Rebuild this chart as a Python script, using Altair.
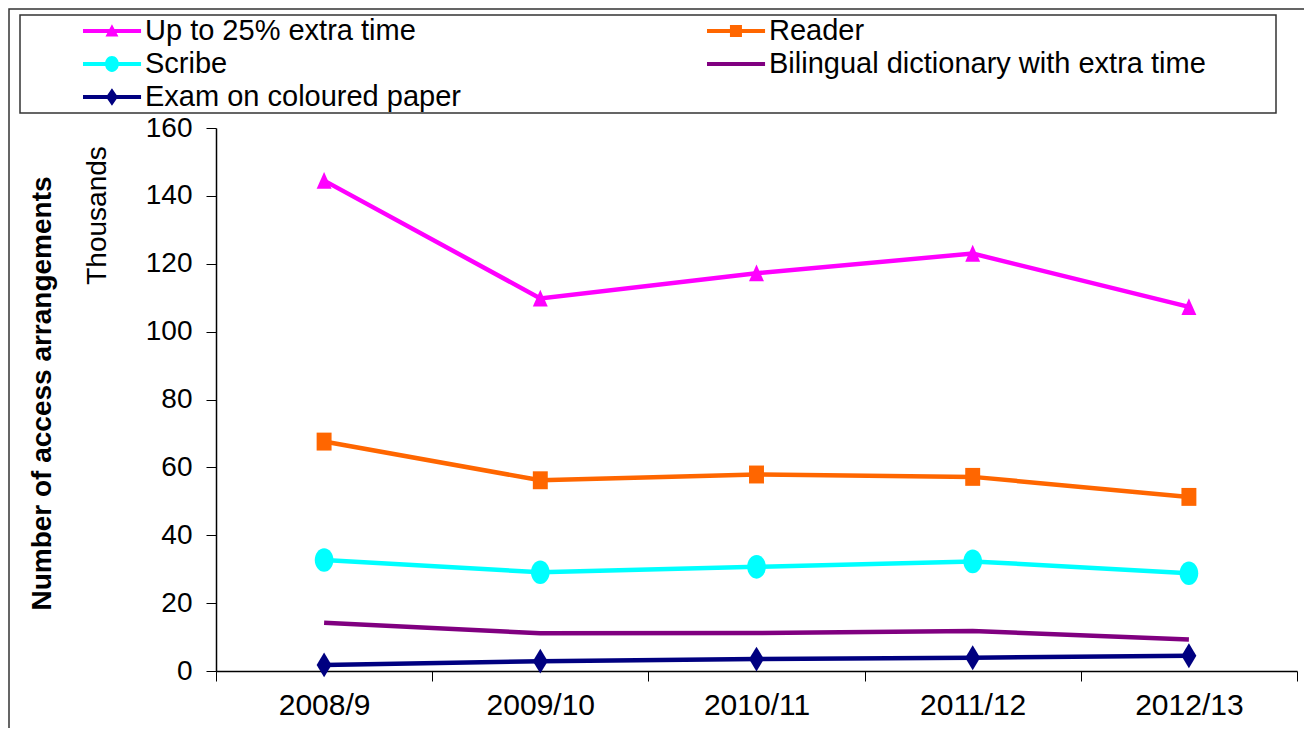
import altair as alt
import pandas as pd

years = ["2008/9", "2009/10", "2010/11", "2011/12", "2012/13"]
series = [
    "Up to 25% extra time",
    "Reader",
    "Scribe",
    "Bilingual dictionary with extra time",
    "Exam on coloured paper",
]
extra_time = [144.5, 109.8, 117.2, 123.0, 107.3]
reader = [67.6, 56.2, 57.9, 57.2, 51.3]
scribe = [32.7, 29.1, 30.7, 32.3, 28.8]
bilingual = [14.2, 11.1, 11.2, 11.8, 9.3]
coloured_paper = [1.8, 2.9, 3.5, 3.9, 4.5]
colors = ["#FF00FF", "#FF6600", "#00FFFF", "#800080", "#000080"]
y_ticks = [0, 20, 40, 60, 80, 100, 120, 140, 160]

all_values = [extra_time, reader, scribe, bilingual, coloured_paper]
df = pd.DataFrame({
    "year": [y for _ in series for y in years],
    "series": [s for s in series for _ in years],
    "value": [v for vals in all_values for v in vals],
})

FONT = "Liberation Sans"

# marker shapes on the chart (None = no marker)
marker_paths = [
    "M-0.6,0.65L0,-0.7L0.6,0.65Z",
    "M-0.6,-0.72L0.6,-0.72L0.6,0.72L-0.6,0.72Z",
    "M-0.75,0A0.75,0.95,0,1,1,0.75,0A0.75,0.95,0,1,1,-0.75,0Z",
    None,
    "M0,-1L0.6,0L0,1L-0.6,0Z",
]

# legend symbols: line with marker (units of 15px)
leg_line = "M-1,-0.14L2.87,-0.14L2.87,0.14L-1,0.14Z"
legend_paths = [
    leg_line + "M0.5,0.36L0.93,-0.45L1.36,0.36Z",
    leg_line + "M0.53,-0.4L1.33,-0.4L1.33,0.4L0.53,0.4Z",
    leg_line + "M0.47,0A0.46,0.53,0,1,1,1.39,0A0.46,0.53,0,1,1,0.47,0Z",
    leg_line,
    leg_line + "M0.93,-0.58L1.33,0L0.93,0.58L0.53,0Z",
]

x_enc = alt.X(
    "year:N",
    sort=years,
    bandPosition=0.5,
    scale=alt.Scale(type="band", paddingInner=0, paddingOuter=0),
    axis=alt.Axis(
        title="Thousands",
        titleAngle=270,
        titleX=-119,
        titleY=-456,
        titleAlign="center",
        titleBaseline="middle",
        titleFont=FONT,
        titleFontSize=28,
        titleFontWeight="normal",
        titleColor="black",
        labelAngle=0,
        labelFont=FONT,
        labelFontSize=30,
        labelColor="black",
        labelPadding=9,
        tickBand="extent",
        tickSize=10,
        tickColor="black",
        domainColor="black",
        domainWidth=1.5,
        grid=False,
    ),
)
y_enc = alt.Y(
    "value:Q",
    scale=alt.Scale(domain=[0, 160], nice=False),
    axis=alt.Axis(
        values=y_ticks,
        title="Number of access arrangements",
        titleAngle=270,
        titleX=-174,
        titleY=265,
        titleAlign="center",
        titleBaseline="middle",
        titleFont=FONT,
        titleFontSize=28,
        titleFontWeight="bold",
        titleColor="black",
        labelFont=FONT,
        labelFontSize=28,
        labelColor="black",
        labelPadding=14,
        tickSize=10,
        tickColor="black",
        domainColor="black",
        domainWidth=1.5,
        grid=False,
    ),
)


def make_legend():
    return alt.Legend(
        title=None,
        orient="none",
        direction="horizontal",
        legendX=-133,
        legendY=-112,
        columns=2,
        columnPadding=246,
        rowPadding=3,
        padding=0,
        symbolSize=900,
        symbolStrokeWidth=0,
        symbolOpacity=1,
        labelFont=FONT,
        labelFontSize=29,
        labelColor="black",
        labelLimit=700,
        labelOffset=32,
    )


series_layers = []
for s, col, path in zip(series, colors, marker_paths):
    base = alt.Chart(df).transform_filter(
        alt.FieldEqualPredicate(field="series", equal=s)
    )
    series_layers.append(
        base.mark_line(strokeWidth=4.5, color=col).encode(
            x=x_enc, y=y_enc, order=alt.Order("year:N")
        )
    )
    if path is not None:
        series_layers.append(
            base.mark_point(
                filled=True, opacity=1, size=620, shape=path, color=col, strokeWidth=0
            ).encode(x=x_enc, y=y_enc)
        )

legend_layer = alt.Chart(df).mark_point(filled=True, opacity=0, size=1).encode(
    x=x_enc,
    y=y_enc,
    color=alt.Color("series:N", scale=alt.Scale(domain=series, range=colors), legend=make_legend()),
    shape=alt.Shape(
        "series:N",
        scale=alt.Scale(domain=series, range=legend_paths),
        legend=make_legend(),
    ),
)

frame_data = pd.DataFrame({"k": [0]})
outer_frame = alt.Chart(frame_data).mark_rect(
    fillOpacity=0, stroke="#333333", strokeWidth=1.5
).encode(
    x=alt.value(-207), x2=alt.value(1200), y=alt.value(-119), y2=alt.value(700)
)
legend_box = alt.Chart(frame_data).mark_rect(
    fillOpacity=0, stroke="#333333", strokeWidth=1.5
).encode(
    x=alt.value(-196), x2=alt.value(1060), y=alt.value(-113), y2=alt.value(-15)
)

chart = alt.layer(outer_frame, legend_box, *series_layers, legend_layer).properties(
    width=1081,
    height=543,
    autosize=alt.AutoSizeParams(type="none"),
    padding={"left": 208, "top": 120, "right": 7, "bottom": 57},
    background="white",
).configure_view(strokeWidth=0)

chart.save("out.html", embed_options={"renderer": "svg", "actions": False})
